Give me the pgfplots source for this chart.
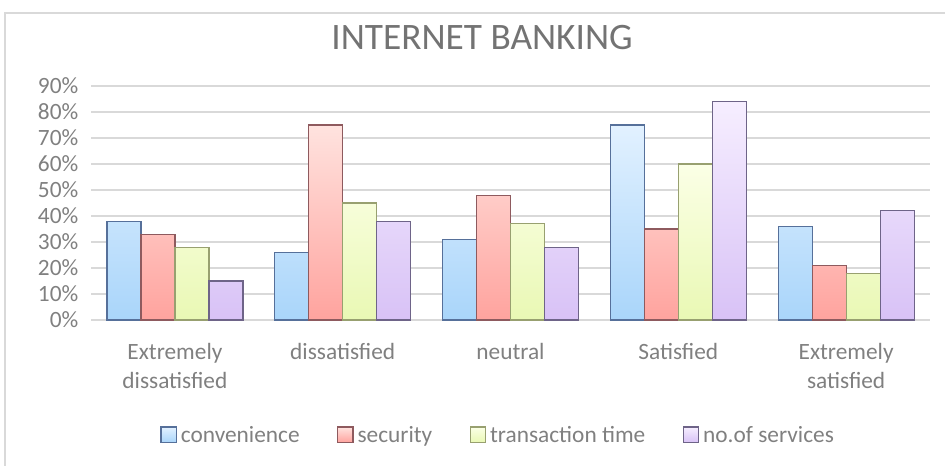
\documentclass[border=0pt]{standalone}
\usepackage{pgfplots}
\pgfplotsset{compat=1.18}
\usepackage{fontspec}
\setmainfont{Carlito}
\definecolor{txt}{HTML}{808080}
\definecolor{gridc}{HTML}{D9D9D9}
\definecolor{bTop}{HTML}{E2F1FF}
\definecolor{bBot}{HTML}{A9D5FA}
\definecolor{bLine}{HTML}{56709A}
\definecolor{rTop}{HTML}{FFE3DF}
\definecolor{rBot}{HTML}{FFA39E}
\definecolor{rLine}{HTML}{8E5A5E}
\definecolor{gTop}{HTML}{FBFFE6}
\definecolor{gBot}{HTML}{E9F8B4}
\definecolor{gLine}{HTML}{98A070}
\definecolor{pTop}{HTML}{F6EEFF}
\definecolor{pBot}{HTML}{D8C2F6}
\definecolor{pLine}{HTML}{6E6488}
\begin{document}
\begin{tikzpicture}
\path[use as bounding box] (0,0) rectangle (708.75pt,-349.5pt);
\draw[gridc, line width=0.8pt] (3.75pt,-349.5pt) -- (3.75pt,-9.75pt) -- (708.75pt,-9.75pt);
\node[text=txt!90!black, font=\fontsize{28}{32}\selectfont, anchor=center] at (361.5pt,-28.5pt) {INTERNET BANKING};
\begin{axis}[
  at={(68.25pt,-240pt)}, anchor=south west,
  scale only axis, width=629.25pt, height=175.5pt,
  ybar=0pt, bar width=25.5pt,
  xmin=-0.5, xmax=4.5, ymin=0, ymax=90,
  xtick={0,1,2,3,4},
  xticklabels={{Extremely\\dissatisfied},{dissatisfied},{neutral},{Satisfied},{Extremely\\satisfied}},
  xticklabel style={align=center, font=\fontsize{17.5}{21.5}\selectfont, text=txt, yshift=-14pt},
  ytick={0,10,...,90},
  yticklabel={\pgfmathprintnumber{\tick}\%},
  yticklabel style={font=\fontsize{17.5}{21}\selectfont, text=txt, xshift=-6pt},
  /pgf/number format/assume math mode=true,
  ymajorgrids, xmajorgrids=false, grid style={draw=gridc, line width=0.8pt},
  axis line style={draw=none},
  axis x line*=bottom,
  x axis line style={draw=gridc, line width=0.8pt},
  major tick length=0pt,
  legend columns=4,
  legend style={at={(0.4857,-0.4915)}, anchor=center, draw=none, fill=none,
    font=\fontsize{17.5}{21}\selectfont, text=txt,
    /tikz/every even column/.append style={column sep=26pt},
    /tikz/every odd column/.append style={column sep=1pt}},
  legend image code/.code={\draw[#1] (0pt,-5.5pt) rectangle (11.5pt,6pt);},
]
\addplot[draw=bLine, line width=0.9pt, top color=bTop, bottom color=bBot] coordinates {(0,38) (1,26) (2,31) (3,75) (4,36)};
\addplot[draw=rLine, line width=0.9pt, top color=rTop, bottom color=rBot] coordinates {(0,33) (1,75) (2,48) (3,35) (4,21)};
\addplot[draw=gLine, line width=0.9pt, top color=gTop, bottom color=gBot] coordinates {(0,28) (1,45) (2,37) (3,60) (4,18)};
\addplot[draw=pLine, line width=0.9pt, top color=pTop, bottom color=pBot] coordinates {(0,15) (1,38) (2,28) (3,84) (4,42)};
\legend{convenience,security,transaction time,no.of services}
\end{axis}
\end{tikzpicture}
\end{document}
